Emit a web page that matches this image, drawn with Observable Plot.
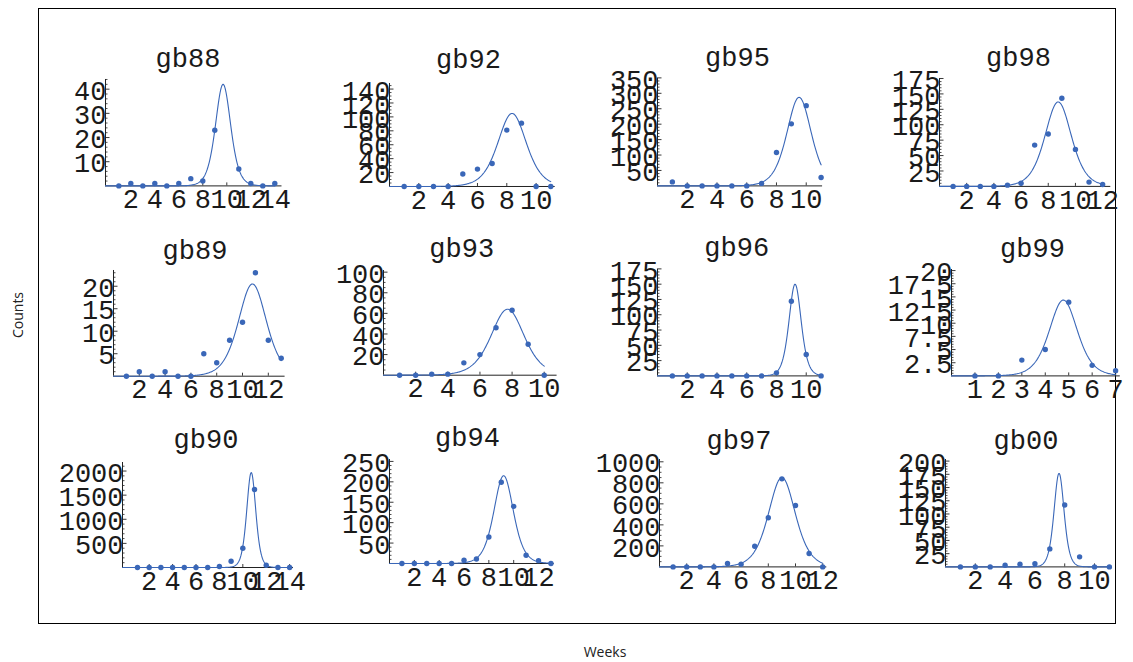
<!DOCTYPE html>
<html><head><meta charset="utf-8">
<script src="https://cdn.jsdelivr.net/npm/d3@7"></script>
<script src="https://cdn.jsdelivr.net/npm/@observablehq/plot@0.6"></script>
<style>
body{margin:0;background:#fff;}
#chart{position:relative;width:1133px;height:662px;overflow:hidden;background:#fff;}
.frame{position:absolute;left:38px;top:8px;width:1078px;height:616px;border:1px solid #000;box-sizing:border-box;}
svg.panel{position:absolute;}
#overlay{position:absolute;left:0;top:0;}
</style></head>
<body><div id="chart"><div class="frame"></div></div>
<script>
// ---------------- data ----------------
const panelNames = ["gb88","gb92","gb95","gb98","gb89","gb93","gb96","gb99","gb90","gb94","gb97","gb00"];

const gb88Weeks = [1,2,3,4,5,6,7,8,9,11,12,13,14];
const gb88Counts = [0,1,0,1,0,1,3,2,23,7,1,0,1];
const gb92Weeks = [1,2,3,4,5,6,7,8,9,10,11];
const gb92Counts = [0,0,0,0,18,25,33,81,91,0,0];
const gb95Weeks = [1,2,3,4,5,6,7,8,9,10,11];
const gb95Counts = [13,0,0,0,0,0,8,108,201,260,27];
const gb98Weeks = [1,2,3,4,5,6,7,8,9,10,11,12];
const gb98Counts = [0,0,0,0,2,5,67,85,143,60,7,3];
const gb89Weeks = [1,2,3,4,5,6,7,8,9,10,11,12,13];
const gb89Counts = [0,1,0,1,0,0,5,3,8,12,23,8,4];
const gb93Weeks = [1,2,3,4,5,6,7,8,9,10];
const gb93Counts = [0,0,1,1,12,20,46,63,30,0];
const gb96Weeks = [1,2,3,4,5,6,7,8,9,10,11];
const gb96Counts = [0,0,0,0,0,0,0,5,122,35,0];
const gb99Weeks = [1,2,3,4,5,6,7];
const gb99Counts = [0,0,3,5,14,2,1];
const gb90Weeks = [1,2,3,4,5,6,7,8,9,10,11,12,13,14];
const gb90Counts = [0,0,0,0,0,0,0,20,131,400,1617,48,0,0];
const gb94Weeks = [1,2,3,4,5,6,7,8,9,10,11,12,13];
const gb94Counts = [0,0,0,0,0,8,11,65,199,140,20,7,0];
const gb97Weeks = [1,2,3,4,5,6,7,8,9,10,11,12];
const gb97Counts = [0,0,0,0,32,25,197,467,838,584,127,0];
const gb00Weeks = [1,2,3,4,5,6,7,8,9,10,11];
const gb00Counts = [0,0,0,3,5,6,34,117,19,0,0];

// fitted epidemic curves (peak height, peak week, width)
const fitPeak   = [42, 105, 287, 137, 20.5, 64, 150, 14.4, 1970, 215, 851, 177];
const fitCenter = [9.69, 8.36, 9.52, 8.73, 10.77, 7.72, 9.25, 4.77, 10.72, 9.19, 9.0, 7.62];
const fitWidth  = [0.85, 1.3, 1.1, 1.3, 1.45, 1.38, 0.55, 0.8, 0.52, 1.05, 1.32, 0.45];

// tick labels
const yTicks88 = [10,20,30,40];
const yTicks92 = [20,40,60,80,100,120,140];
const yTicks95 = [50,100,150,200,250,300,350];
const yTicks98 = [25,50,75,100,125,150,175];
const yTicks89 = [5,10,15,20];
const yTicks93 = [20,40,60,80,100];
const yTicks96 = [25,50,75,100,125,150,175];
const yTicks99 = [2.5,5,7.5,10,12.5,15,17.5,20];
const yTicks90 = [500,1000,1500,2000];
const yTicks94 = [50,100,150,200,250];
const yTicks97 = [200,400,600,800,1000];
const yTicks00 = [25,50,75,100,125,150,175,200];
const yMinorSteps = [2,5,10,5,1,5,5,0.5,100,10,50,5];

const xTicks14 = [2,4,6,8,10,12,14];
const xTicks12 = [2,4,6,8,10,12];
const xTicks10 = [2,4,6,8,10];
const xTicks7 = [1,2,3,4,5,6,7];

const axisTitleX = "Weeks";
const axisTitleY = "Counts";

const allWeeks = [gb88Weeks,gb92Weeks,gb95Weeks,gb98Weeks,gb89Weeks,gb93Weeks,gb96Weeks,gb99Weeks,gb90Weeks,gb94Weeks,gb97Weeks,gb00Weeks];
const allCounts = [gb88Counts,gb92Counts,gb95Counts,gb98Counts,gb89Counts,gb93Counts,gb96Counts,gb99Counts,gb90Counts,gb94Counts,gb97Counts,gb00Counts];
const allYTicks = [yTicks88,yTicks92,yTicks95,yTicks98,yTicks89,yTicks93,yTicks96,yTicks99,yTicks90,yTicks94,yTicks97,yTicks00];
const allXTicks = [xTicks14,xTicks10,xTicks10,xTicks12,xTicks12,xTicks10,xTicks10,xTicks7,xTicks14,xTicks12,xTicks12,xTicks10];

// ---------------- layout (pixels / scale domains) ----------------
const layout = [
  {left:105,   right:281.5, top:79.3,  bottom:185.7, xdom:[-0.11,14.6], ydom:[0,44],   tx:188,    ty:67},
  {left:389.3, right:555,   top:82.7,  bottom:185.7, xdom:[0,11.3],     ydom:[0,148],  tx:468.5,  ty:68},
  {left:656.5, right:821.6, top:78.3,  bottom:185.7, xdom:[0,11.1],     ydom:[0,348],  tx:737.5,  ty:66},
  {left:938.7, right:1110,  top:77.8,  bottom:185.7, xdom:[0,12.6],     ydom:[0,175],  tx:1018.5, ty:66},
  {left:112.8, right:284.4, top:270,   bottom:375.7, xdom:[0,13.3],     ydom:[0,23.5], tx:195,    ty:259},
  {left:382.6, right:556.2, top:270,   bottom:374.7, xdom:[0,10.8],     ydom:[0,101.6],tx:461.7,  ty:257},
  {left:656.5, right:821.6, top:269.3, bottom:375.7, xdom:[0,11.1],     ydom:[0,174],  tx:736.7,  ty:256},
  {left:951.2, right:1120,  top:269.3, bottom:375.7, xdom:[0,7.2],      ydom:[0,20.2], tx:1032.5, ty:257},
  {left:122.3, right:293.3, top:461.7, bottom:566.7, xdom:[-0.28,14.33],ydom:[0,2177], tx:206,    ty:448},
  {left:388.6, right:553.3, top:459.3, bottom:563.3, xdom:[0,13.26],    ydom:[0,254.7],tx:467.5,  ty:446},
  {left:658.7, right:826,   top:459.3, bottom:566.7, xdom:[0,12.3],     ydom:[0,1022], tx:739,    ty:449},
  {left:945.1, right:1112,  top:459.3, bottom:566.7, xdom:[0,11.2],     ydom:[0,203],  tx:1026,   ty:449}
];

const BLUE = "#3a67b8";
const AXIS = "#222";
const MONO = "'Liberation Mono','Courier New',monospace";
const FS = 27;

const chart = document.getElementById("chart");

panelNames.forEach((name, i) => {
  const L = layout[i];
  const ML = 90, MR = 30, MT = 6, MB = 40;
  const pw = L.right - L.left, ph = L.bottom - L.top;
  const pts = allWeeks[i].map((w, j) => ({week: w, count: allCounts[i][j]}));
  const lastWeek = d3.max(allWeeks[i]);
  const fitFn = x => fitPeak[i] / Math.cosh((x - fitCenter[i]) / fitWidth[i]) ** 2;
  const curve = d3.range(L.xdom[0], lastWeek + 1e-9, 0.04).concat([lastWeek]).map(x => ({week: x, count: fitFn(x)}));
  const yMajor = allYTicks[i];
  const step = yMinorSteps[i];
  const yMinor = d3.range(step, L.ydom[1] + 1e-9, step).filter(v => !yMajor.some(m => Math.abs(m - v) < 1e-9));
  const xTicks = allXTicks[i];
  const x0 = L.xdom[0];

  const svg = Plot.plot({
    width: ML + pw + MR, height: MT + ph + MB,
    marginLeft: ML, marginRight: MR, marginTop: MT, marginBottom: MB,
    x: {domain: L.xdom, axis: null},
    y: {domain: L.ydom, axis: null},
    style: {background: "transparent", overflow: "visible"},
    marks: [
      Plot.tickY(yMinor, {y: d => d, insetRight: pw - 2.5, stroke: AXIS, strokeWidth: 0.8}),
      Plot.tickY(yMajor, {y: d => d, insetRight: pw - 4.5, stroke: AXIS, strokeWidth: 0.9}),
      Plot.tickX(xTicks, {x: d => d, insetTop: ph - 3, stroke: AXIS, strokeWidth: 0.9}),
      Plot.ruleY([0], {stroke: AXIS, strokeWidth: 1}),
      Plot.ruleX([x0], {stroke: AXIS, strokeWidth: 1}),
      Plot.line(curve, {x: "week", y: "count", stroke: BLUE, strokeWidth: 1.1}),
      Plot.dot(pts, {x: "week", y: "count", r: 2.7, fill: BLUE, stroke: "none"}),
      Plot.text(yMajor, {x: () => x0, y: d => d, text: d => String(d), textAnchor: "end", dx: 1, dy: 2,
        fontSize: FS, fontFamily: MONO, fill: "#1a1a1a"}),
      Plot.text(xTicks, {x: d => d, y: () => 0, text: d => String(d), lineAnchor: "top", dy: 3,
        fontSize: FS, fontFamily: MONO, fill: "#1a1a1a"})
    ]
  });
  svg.classList.add("panel");
  svg.style.left = (L.left - ML) + "px";
  svg.style.top = (L.top - MT) + "px";
  chart.appendChild(svg);
});

// overlay: panel titles and axis titles
const ov = d3.select(chart).append("svg").attr("id", "overlay").attr("width", 1133).attr("height", 662);
ov.selectAll("text.t").data(panelNames).join("text")
  .attr("x", (d, i) => layout[i].tx).attr("y", (d, i) => layout[i].ty)
  .attr("text-anchor", "middle").attr("font-family", MONO).attr("font-size", FS).attr("fill", "#1a1a1a")
  .text(d => d);
ov.append("text").attr("x", 605).attr("y", 657).attr("text-anchor", "middle")
  .attr("font-family", "'Open Sans',sans-serif").attr("font-size", 14).attr("fill", "#222").text(axisTitleX);
ov.append("text").attr("transform", "translate(23,315) rotate(-90)").attr("text-anchor", "middle")
  .attr("font-family", "'Open Sans',sans-serif").attr("font-size", 14).attr("fill", "#222").text(axisTitleY);
</script></body></html>
